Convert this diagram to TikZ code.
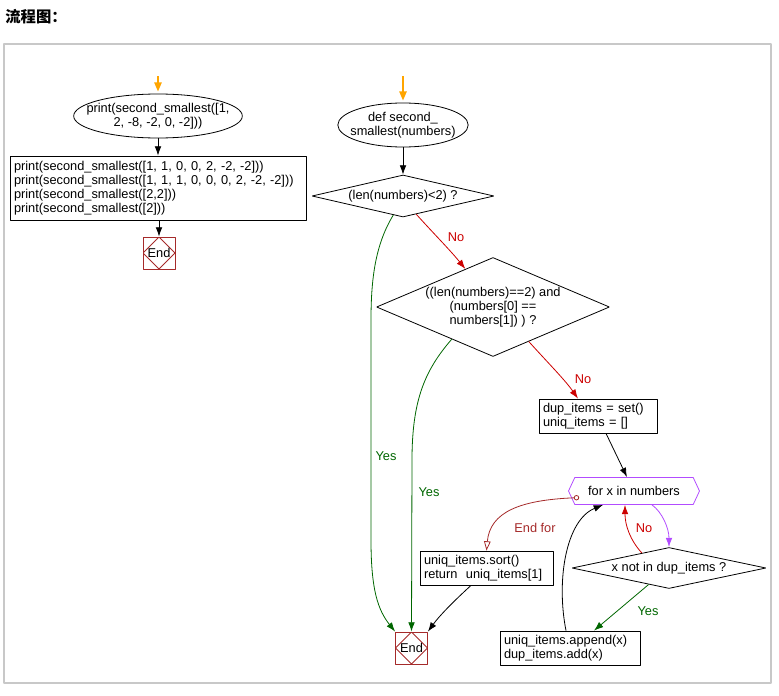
\documentclass[tikz,border=0pt]{standalone}
\usepackage{fontspec}
\setmainfont{Liberation Sans}
\newfontfamily\cjk{Noto Sans CJK SC}
\usetikzlibrary{arrows.meta}
\usetikzlibrary{shapes.geometric, shapes.symbols}

\definecolor{flowred}{HTML}{CC0000}
\definecolor{flowgreen}{HTML}{006600}
\definecolor{flowbrown}{HTML}{A52A2A}
\definecolor{flowpurple}{HTML}{B24CFF}
\definecolor{flowstart}{HTML}{FFA500}
\definecolor{framegray}{HTML}{C8C8C8}

\tikzset{
  txt/.style={font=\fontsize{9.6}{10.5}\selectfont},
  term/.style={txt,draw,ellipse,inner ysep=0pt,align=center},
  proc/.style={txt,draw,rectangle,inner xsep=3pt,inner ysep=0pt,align=left},
  cond/.style={txt,draw,diamond,inner sep=-2pt,align=center},
  loopbox/.style={txt,draw=flowpurple,shape=signal,signal to=east and west,signal pointer angle=130,inner sep=0pt},
  stopbox/.style={txt,draw=flowbrown,rectangle,minimum size=24pt,inner sep=0pt,
    path picture={\draw[flowbrown] (path picture bounding box.north) -- (path picture bounding box.east)
      -- (path picture bounding box.south) -- (path picture bounding box.west) -- cycle;}},
  lbl/.style={txt,inner sep=0pt},
  startarrow/.style={flowstart,line width=1.4pt,-{Triangle[length=7pt,width=5.5pt]}},
}

\begin{document}
\begin{tikzpicture}[>={Latex[length=7pt,width=5pt]},line join=bevel,x=0.75pt,y=-0.75pt,line width=0.6pt]
\useasboundingbox (0,0) rectangle (779,696);
%%
\node (title) at (5,17) [anchor=west,inner sep=0pt,font=\cjk\bfseries\fontsize{11.5}{12}\selectfont] {流程图：};
\draw [framegray,line width=1.5pt] (4,44) rectangle (771,683);
%
\coordinate (start_a) at (158,76);
  \node (print_call) at (158,116) [term,inner xsep=-8.9pt,minimum height=33pt] {print(second\_smallest([1,\\2, -8, -2, 0, -2]))};
  \node (print_more) at (158,188) [proc,text width=216pt,minimum height=48pt] {print(second\_smallest([1, 1, 0, 0, 2, -2, -2]))\\print(second\_smallest([1, 1, 1, 0, 0, 0, 2, -2, -2]))\\print(second\_smallest([2,2]))\\print(second\_smallest([2]))};
  \node (end_a) at (159,253) [stopbox] {End};
%
\coordinate (start_b) at (403,76);
  \node (def_fn) at (403,125) [term,inner xsep=-4.9pt,minimum height=33pt] {def second\_\\smallest(numbers)};
  \node (len_lt) at (403,196) [cond,aspect=4.33,minimum width=136.5pt,minimum height=31.5pt] {(len(numbers)<2) ?};
  \node (len_eq) at (493,307) [cond,aspect=2.35,minimum width=174.75pt,minimum height=74.25pt] {((len(numbers)==2) and\\(numbers[0] ==\\numbers[1]) ) ?};
  \node (init_sets) at (598,416) [proc,text width=82.5pt,minimum height=25.5pt] {dup\_items = set()\\uniq\_items = []};
  \node (for_x) at (634,491) [loopbox,minimum width=98.25pt,minimum height=20.25pt] {for x in numbers};
  \node (not_in) at (669,568) [cond,aspect=4.73,minimum width=145.5pt,minimum height=30.75pt] {x not in dup\_items ?};
  \node (add_item) at (570,648) [proc,text width=99pt,minimum height=25.5pt] {uniq\_items.append(x)\\dup\_items.add(x)};
  \node (sort_ret) at (486.5,568) [proc,text width=93.75pt,minimum height=25.5pt] {uniq\_items.sort()\\return\ \ uniq\_items[1]};
  \node (end_b) at (411.5,648) [stopbox] {End};
%
  \draw [startarrow] (start_a) -- ([yshift=1.5pt]print_call.north);
  \draw [black,->] (print_call) -- (print_more);
  \draw [black,->] (print_more.south -| end_a) -- (end_a);
  \draw [startarrow] (start_b) -- ([yshift=1.5pt]def_fn.north);
  \draw [black,->] (def_fn) -- (len_lt);
  \draw [flowred,->] (len_lt.-54) ..controls (435,235) and (450,250) .. (len_eq.126);
  \node (no_a) at (456,237) [lbl,text=flowred] {No};
  \draw [flowred,->] (len_eq.-44) ..controls (550,365) and (565,380) .. ([xshift=-15pt]init_sets.north);
  \node (no_b) at (583,379) [lbl,text=flowred] {No};
  \draw [black,->] ([xshift=6pt]init_sets.south) -- ([xshift=-5.25pt]for_x.north);
  \draw [flowpurple,->] ([xshift=13.5pt]for_x.south) ..controls (662,512) and (669,528) .. (not_in.north);
  \draw [flowred,->] (not_in.151) ..controls (630,540) and (625,525) .. ([xshift=-6.75pt]for_x.south);
  \node (no_c) at (644,528) [lbl,text=flowred] {No};
  \draw [flowgreen,->] (not_in.219) -- ([xshift=18pt]add_item.north);
  \node (yes_c) at (648,611) [lbl,text=flowgreen] {Yes};
  \draw [black,->] ([xshift=-3pt]add_item.north) ..controls (556,580) and (566,520) .. ([xshift=-23.25pt]for_x.south);
  \draw [flowbrown,{Circle[open,length=4pt]}-{Triangle[open,length=7pt,width=5pt]}] ([xshift=6pt]for_x.186) ..controls (520,500) and (490,512) .. (sort_ret.north);
  \node (end_for) at (535,528) [lbl,text=flowbrown] {End for};
  \draw [black,->] ([xshift=-11.6pt]sort_ret.south) ..controls (455,600) and (440,615) .. (end_b.north east);
  \draw [flowgreen,->] (len_lt.243) ..controls (375,245) and (371,280) .. (371,320) -- (371,540) ..controls (371,590) and (378,610) .. (end_b.north west);
  \node (yes_a) at (386,456) [lbl,text=flowgreen] {Yes};
  \draw [flowgreen,->] (len_eq.218) ..controls (425,370) and (412,400) .. (412,460) -- (end_b.north);
  \node (yes_b) at (429,492) [lbl,text=flowgreen] {Yes};
%
\end{tikzpicture}
\end{document}
